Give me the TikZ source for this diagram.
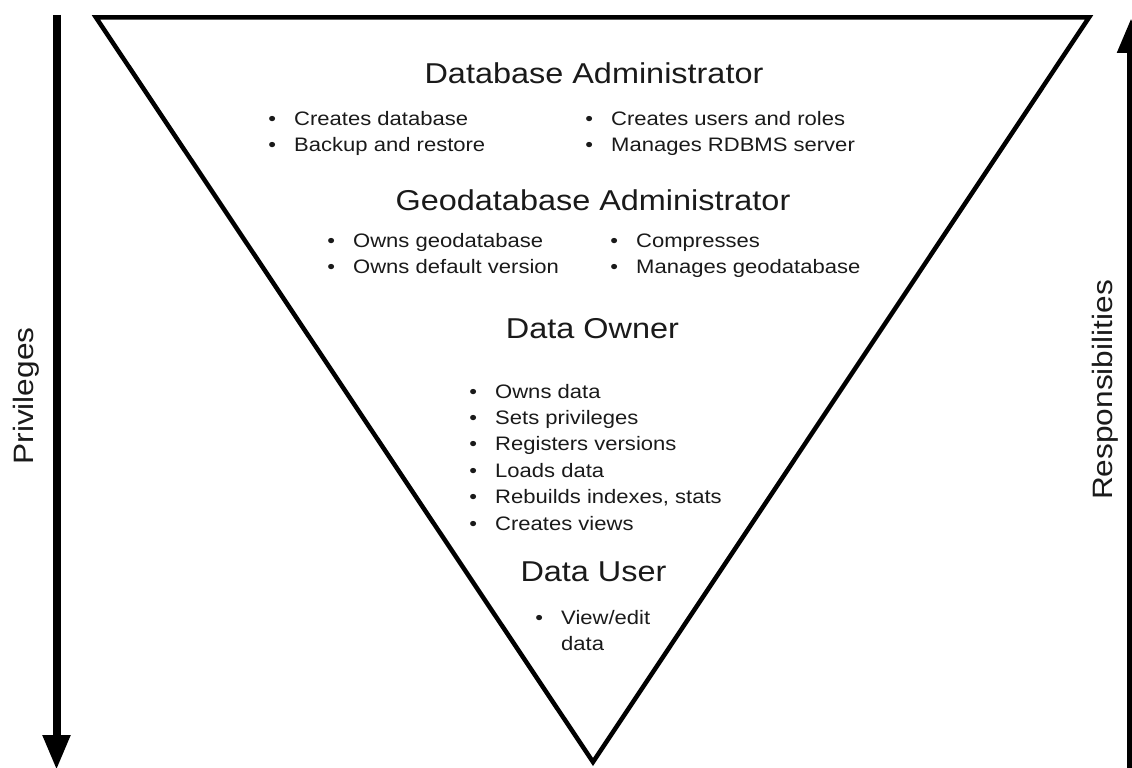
\documentclass[tikz,border=0pt]{standalone}
\usepackage{fontspec}
\setmainfont{Liberation Sans}[FakeStretch=1.13]
\usetikzlibrary{arrows.meta}
\definecolor{txt}{HTML}{1A1A1A}
\newcommand{\myitem}[1]{\makebox[10pt][c]{•}\hspace{17pt}#1}
\newcommand{\mycont}[1]{\hspace{27pt}#1}
\newcommand{\mylist}[1]{\begin{tabular}[t]{@{}l@{}}#1\end{tabular}}
\tikzset{
  title/.style={font=\fontsize{28.7}{34}\selectfont, anchor=base, inner sep=0pt, text=txt},
  bullets/.style={font=\fontsize{19.5}{26.4}\selectfont, anchor=base west, inner sep=0pt, text=txt},
  side/.style={font=\fontsize{28}{34}\selectfont, anchor=base, rotate=90, inner sep=0pt, text=txt},
  tri/.style={draw=black, line width=4.5pt, line join=miter},
  axis/.style={draw=black, line width=8pt, -{Triangle[length=35pt,width=26pt]}}
}
\begin{document}
\begin{tikzpicture}[x=1pt,y=-1pt]
\useasboundingbox (0,0) rectangle (1132,768);
\fill[white] (0,0) rectangle (1132,768);

% triangle
\coordinate (tl) at (96,17.5);
\coordinate (tr) at (1089,17.5);
\coordinate (bt) at (593,762);
\draw[tri] (tl) -- (tr) -- (bt) -- cycle;

% side arrows
\coordinate (pstart) at (56.5,15);
\coordinate (pend) at (56.5,770);
\draw[axis] (pstart) -- (pend);
\coordinate (rstart) at (1131,780);
\coordinate (rend) at (1131,18);
\draw[axis] (rstart) -- (rend);

\node[side] (priv) at (33,396) {Privileges};
\node[side] (resp) at (1112.5,390) {Responsibilities};

% titles
\node[title] (da) at (594,84) {Database Administrator};
\node[title] (ga) at (593,210) {Geodatabase Administrator};
\node[title] (do) at (592.5,338.5) {Data Owner};
\node[title] (du) at (593.5,581.5) {Data User};

% bullet lists
\node[bullets] (dal) at (267,125) {\mylist{\myitem{Creates database}\\ \myitem{Backup and restore}}};
\node[bullets] (dar) at (584,125) {\mylist{\myitem{Creates users and roles}\\ \myitem{Manages RDBMS server}}};
\node[bullets] (gal) at (326,247) {\mylist{\myitem{Owns geodatabase}\\ \myitem{Owns default version}}};
\node[bullets] (gar) at (609,247) {\mylist{\myitem{Compresses}\\ \myitem{Manages geodatabase}}};
\node[bullets] (dol) at (468,398) {\mylist{\myitem{Owns data}\\ \myitem{Sets privileges}\\ \myitem{Registers versions}\\ \myitem{Loads data}\\ \myitem{Rebuilds indexes, stats}\\ \myitem{Creates views}}};
\node[bullets] (dul) at (534,624.5) {\mylist{\myitem{View/edit}\\ \mycont{data}}};
\end{tikzpicture}
\end{document}
